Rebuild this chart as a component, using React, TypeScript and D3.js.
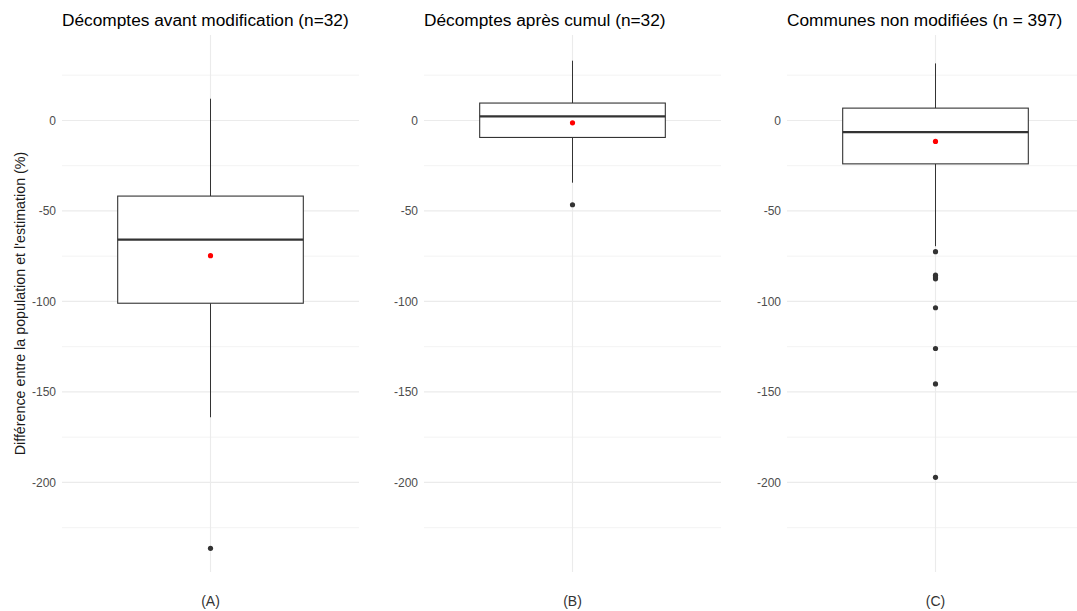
import React from "react";
import * as d3 from "d3";

// Données (en %)
const titles = [
  "Décomptes avant modification (n=32)",
  "Décomptes après cumul (n=32)",
  "Communes non modifiées (n = 397)",
];
const groups = ["(A)", "(B)", "(C)"];
const whiskerHigh = [12, 33, 31.5];
const q3 = [-41.8, 9.6, 6.8];
const medians = [-65.9, 2.2, -6.5];
const q1 = [-101, -9.4, -24];
const whiskerLow = [-164, -34.4, -69.5];
const means = [-74.7, -1.3, -11.6];
const outliers = [
  [-236.4],
  [-46.6],
  [-72.5, -85.5, -86.5, -87.5, -103.5, -126, -145.6, -197.2],
];
const majorTicks = [0, -50, -100, -150, -200];
const minorTicks = [25, -25, -75, -125, -175, -225];

const width = 1077, height = 611;
const panelLeft = [62, 424, 787];
const panelWidth = 297;
const top = 35, bottom = 572;

const App = () => {
  const y = d3.scaleLinear().domain([-249.5, 47.2]).range([bottom, top]);
  const font = "'Liberation Sans', Arial, sans-serif";

  return (
    <div style={{ position: "absolute", left: 0, top: 0 }}>
      <svg width={width} height={height} style={{ display: "block", background: "white" }}>
        <text
          transform={`translate(25,${(top + bottom) / 2}) rotate(-90)`}
          textAnchor="middle"
          fontFamily={font}
          fontSize={14.3}
          fill="#1a1a1a"
        >
          Différence entre la population et l'estimation (%)
        </text>
        {titles.map((title, i) => {
          const x = d3.scaleLinear().domain([0.4, 1.6]).range([panelLeft[i], panelLeft[i] + panelWidth]);
          const cx = x(1);
          return (
            <g key={i}>
              {/* grille */}
              {minorTicks.map((t) => (
                <line key={"m" + t} x1={x(0.4)} x2={x(1.6)} y1={y(t)} y2={y(t)} stroke="#ebebeb" strokeWidth={0.6} />
              ))}
              {majorTicks.map((t) => (
                <line key={"M" + t} x1={x(0.4)} x2={x(1.6)} y1={y(t)} y2={y(t)} stroke="#ebebeb" strokeWidth={1.1} />
              ))}
              <line x1={cx} x2={cx} y1={top} y2={bottom} stroke="#ebebeb" strokeWidth={1.1} />
              {majorTicks.map((t) => (
                <text
                  key={"l" + t}
                  x={x(0.4) - 6}
                  y={y(t)}
                  dy="0.35em"
                  textAnchor="end"
                  fontFamily={font}
                  fontSize={12}
                  fill="#4d4d4d"
                >
                  {t}
                </text>
              ))}
              {/* titre */}
              <text x={x(0.4)} y={26} fontFamily={font} fontSize={17.3} fill="#000">
                {title}
              </text>
              {/* boîte */}
              <line x1={cx} x2={cx} y1={y(whiskerHigh[i])} y2={y(q3[i])} stroke="#333" strokeWidth={1} />
              <line x1={cx} x2={cx} y1={y(q1[i])} y2={y(whiskerLow[i])} stroke="#333" strokeWidth={1} />
              <rect
                x={x(1 - 0.375)}
                y={y(q3[i])}
                width={x(1.375) - x(0.625)}
                height={y(q1[i]) - y(q3[i])}
                fill="white"
                stroke="#333"
                strokeWidth={1.1}
              />
              <line x1={x(0.625)} x2={x(1.375)} y1={y(medians[i])} y2={y(medians[i])} stroke="#333" strokeWidth={2.2} />
              {outliers[i].map((o, j) => (
                <circle key={j} cx={cx} cy={y(o)} r={2.6} fill="#333" />
              ))}
              <circle cx={cx} cy={y(means[i])} r={2.6} fill="#ff0000" />
              {/* étiquette x */}
              <text x={cx} y={606} textAnchor="middle" fontFamily={font} fontSize={14} fill="#333">
                {groups[i]}
              </text>
            </g>
          );
        })}
      </svg>
    </div>
  );
};

export default App;
